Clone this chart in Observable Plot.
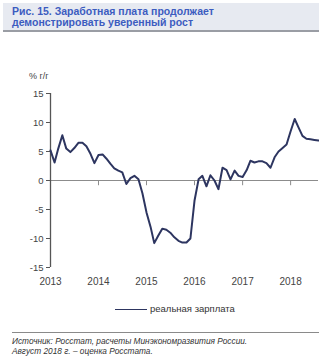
<!DOCTYPE html>
<html><head><meta charset="utf-8">
<script src="https://cdn.jsdelivr.net/npm/d3@7"></script>
<script src="https://cdn.jsdelivr.net/npm/@observablehq/plot@0.6"></script>
<style>
html,body{margin:0;padding:0;background:#fff;}
#wrap{position:relative;width:319px;height:363px;overflow:hidden;font-family:"Liberation Sans",Arial,sans-serif;}
#title{position:absolute;left:3px;top:3px;width:316px;height:27px;background:#e7eaf1;border-bottom:2px solid #9a9da4;box-sizing:content-box;}
#title div{position:absolute;left:9px;top:3px;font-weight:bold;font-size:10.5px;line-height:11px;color:#3c5cc0;white-space:nowrap;}
#ylab{position:absolute;left:29px;top:71px;font-size:9px;color:#444;}
#chart{position:absolute;left:0;top:60px;}
#legend{position:absolute;left:115px;top:303px;font-size:9.5px;color:#333;white-space:nowrap;}
#legend span.sw{display:inline-block;width:32px;height:1.6px;background:#2d3560;vertical-align:middle;margin-right:3px;}
#sep{position:absolute;left:12px;top:332px;width:307px;height:0;border-top:1.5px solid #8a8a8a;}
#foot{position:absolute;left:12px;top:336px;font-size:8.3px;line-height:10px;font-style:italic;color:#333;white-space:nowrap;}
</style></head>
<body><div id="wrap">
<div id="title"><div>Рис. 15. Заработная плата продолжает<br>демонстрировать уверенный рост</div></div>
<div id="ylab">% г/г</div>
<div id="chart"></div>
<div id="legend"><span class="sw"></span>реальная зарплата</div>
<div id="sep"></div>
<div id="foot">Источник: Росстат, расчеты Минэкономразвития России.<br>Август 2018 г. – оценка Росстата.</div>
</div>
<script>
const startMonth = "2013-01";
const realWage = [
  5.2, 3.1, 5.5, 7.8, 5.5, 4.9, 5.6, 6.5, 6.5, 5.9, 4.6, 3.0,
  4.4, 4.5, 3.8, 2.9, 2.1, 1.7, 1.4, -0.6, 0.4, 0.8, 0.2, -2.2,
  -5.5, -8.0, -10.8, -9.5, -8.3, -8.5, -9.0, -9.8, -10.4, -10.7, -10.7, -10.0,
  -3.5, 0.2, 0.8, -1.0, 0.9, 0.0, -1.5, 2.2, 1.8, 0.2, 1.7, 0.8,
  0.6, 1.8, 3.4, 3.1, 3.3, 3.3, 3.0, 2.2, 4.0, 5.0, 5.6, 6.2,
  8.5, 10.6, 9.2, 7.7, 7.2, 7.1, 7.0, 6.9
];
const yTicks = [15, 10, 5, 0, -5, -10, -15];
const yearTicks = [2013, 2014, 2015, 2016, 2017, 2018];
const seriesName = "реальная зарплата";

const t0 = new Date(startMonth + "-01T00:00:00Z");
const data = realWage.map((v, i) => ({date: new Date(Date.UTC(t0.getUTCFullYear(), t0.getUTCMonth() + i, 1)), value: v, series: seriesName}));
const yearDates = yearTicks.map(y => new Date(Date.UTC(y, 0, 1)));

const plot = Plot.plot({
  width: 319,
  height: 235,
  marginLeft: 50,
  marginRight: 1,
  marginTop: 33,
  marginBottom: 28,
  style: {fontFamily: "'Liberation Sans', Arial, sans-serif", fontSize: "10px", color: "#444", background: "transparent"},
  x: {type: "utc", domain: [data[0].date, data[data.length - 1].date], label: null},
  y: {domain: [-15, 15], label: null},
  marks: [
    Plot.ruleY([0], {stroke: "#8c8c8c", strokeWidth: 1.2}),
    Plot.ruleX(yearDates.slice(1), {y1: 0, y2: -0.9, stroke: "#8c8c8c", strokeWidth: 1}),
    Plot.ruleX([data[0].date], {y1: -15, y2: 15, stroke: "#555", strokeWidth: 1.3}),
    Plot.axisY({ticks: yTicks, tickSize: 4, tickPadding: 3, stroke: "#555", tickFormat: d => String(d), fontSize: 9.5}),
    Plot.axisX({ticks: yearDates, tickSize: 0, tickPadding: 10, tickFormat: d3.utcFormat("%Y"), fontSize: 10}),
    Plot.line(data, {x: "date", y: "value", stroke: "#2d3560", strokeWidth: 2, strokeLinejoin: "round"})
  ]
});
document.getElementById("chart").appendChild(plot);
</script>
</body></html>
